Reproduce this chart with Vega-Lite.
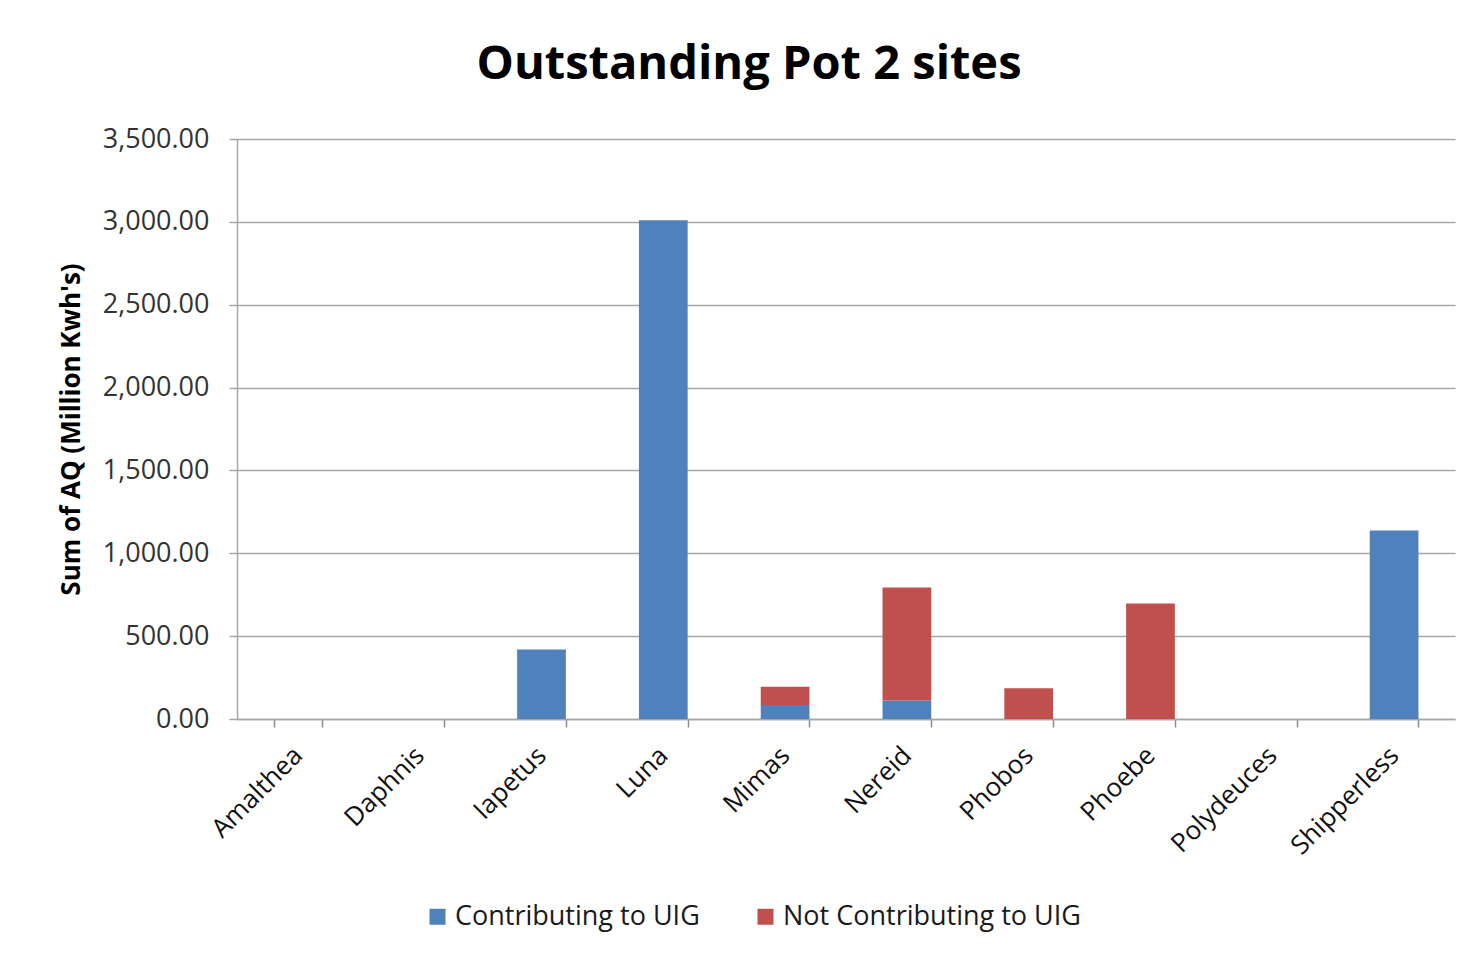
{
  "$schema": "https://vega.github.io/schema/vega-lite/v6.json",
  "width": 1218,
  "height": 580,
  "autosize": {"type": "none"},
  "padding": {"left": 237, "top": 139, "right": 27, "bottom": 242},
  "background": "white",
  "title": {
    "text": "Outstanding Pot 2 sites",
    "font": "Open Sans",
    "fontSize": 47,
    "fontWeight": "bold",
    "color": "#000000",
    "anchor": "middle",
    "dx": -97,
    "offset": 36
  },
  "data": {
    "values": [
      {"site": "Amalthea", "status": "Contributing to UIG", "aq": 0},
      {"site": "Daphnis", "status": "Contributing to UIG", "aq": 0},
      {"site": "Iapetus", "status": "Contributing to UIG", "aq": 420},
      {"site": "Luna", "status": "Contributing to UIG", "aq": 3010},
      {"site": "Mimas", "status": "Contributing to UIG", "aq": 84},
      {"site": "Mimas", "status": "Not Contributing to UIG", "aq": 111},
      {"site": "Nereid", "status": "Contributing to UIG", "aq": 111},
      {"site": "Nereid", "status": "Not Contributing to UIG", "aq": 682},
      {"site": "Phobos", "status": "Not Contributing to UIG", "aq": 185},
      {"site": "Phoebe", "status": "Not Contributing to UIG", "aq": 697},
      {"site": "Polydeuces", "status": "Contributing to UIG", "aq": 0},
      {"site": "Shipperless", "status": "Contributing to UIG", "aq": 1138}
    ]
  },
  "mark": {"type": "bar"},
  "encoding": {
    "x": {
      "field": "site",
      "type": "nominal",
      "sort": null,
      "scale": {"paddingInner": 0.6, "paddingOuter": 0.3},
      "axis": {
        "title": null,
        "labelAngle": -45,
        "labelAlign": "right",
        "labelBaseline": "middle",
        "labelFont": "Open Sans",
        "labelFontSize": 26,
        "labelColor": "#111111",
        "labelPadding": 24,
        "tickBand": "extent",
        "tickSize": 8,
        "tickColor": "#8c8c8c",
        "tickWidth": 1.5,
        "domainColor": "#a6a6a6",
        "domainWidth": 1.5
      }
    },
    "y": {
      "field": "aq",
      "type": "quantitative",
      "aggregate": "sum",
      "stack": "zero",
      "scale": {"domain": [0, 3500], "nice": false},
      "axis": {
        "title": "Sum of AQ (Million Kwh's)",
        "titleFont": "Open Sans",
        "titleFontSize": 26,
        "titleFontWeight": "bold",
        "titleColor": "#000000",
        "titlePadding": 18,
        "values": [0, 500, 1000, 1500, 2000, 2500, 3000, 3500],
        "format": ",.2f",
        "labelFont": "Open Sans",
        "labelFontSize": 27,
        "labelColor": "#333333",
        "labelPadding": 20,
        "tickSize": 8,
        "tickColor": "#a6a6a6",
        "tickWidth": 1.5,
        "gridColor": "#a6a6a6",
        "gridWidth": 1.5,
        "domainColor": "#a6a6a6",
        "domainWidth": 1.5
      }
    },
    "order": {"field": "status", "sort": "ascending"},
    "color": {
      "field": "status",
      "type": "nominal",
      "scale": {
        "domain": ["Contributing to UIG", "Not Contributing to UIG"],
        "range": ["#4f81bd", "#c0504d"]
      },
      "legend": {
        "title": null,
        "orient": "none",
        "direction": "horizontal",
        "legendX": 187,
        "legendY": 764,
        "symbolType": "square",
        "symbolSize": 256,
        "symbolStrokeWidth": 0,
        "labelFont": "Open Sans",
        "labelFontSize": 27,
        "labelColor": "#1a1a1a",
        "labelOffset": 4,
        "labelLimit": 0,
        "columnPadding": 52
      }
    }
  },
  "config": {
    "view": {"stroke": null}
  }
}
